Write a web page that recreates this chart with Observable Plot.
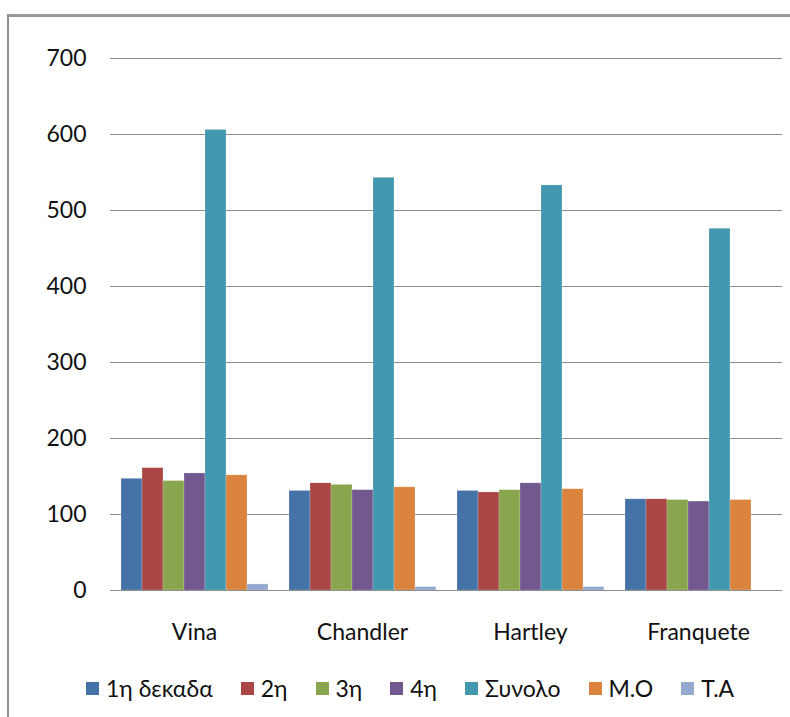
<!DOCTYPE html>
<html>
<head>
<meta charset="utf-8">
<script src="https://cdn.jsdelivr.net/npm/d3@7"></script>
<script src="https://cdn.jsdelivr.net/npm/@observablehq/plot@0.6"></script>
<style>
  html, body { margin: 0; padding: 0; background: #fff; overflow: hidden; width: 790px; height: 717px; }
  #page { position: relative; width: 790px; height: 717px; overflow: hidden; font-family: Lato, "Open Sans", sans-serif; }
  #frame { position: absolute; left: 7px; top: 14px; width: 900px; height: 900px; border-left: 2px solid #8f8f8f; border-top: 3px solid #999; box-sizing: border-box; }
  #chart { position: absolute; left: 0; top: 0; }
  #legend { position: absolute; left: 86px; top: 674px; display: flex; align-items: center; font-size: 23px; color: #111; white-space: nowrap; }
  .item { display: flex; align-items: center; margin-right: 28px; }
  .sw { width: 13px; height: 13px; margin-right: 7px; }
</style>
</head>
<body>
<div id="page">
  <div id="frame"></div>
  <div id="chart"></div>
  <div id="legend"></div>
</div>
<script>
const categories = ["Vina", "Chandler", "Hartley", "Franquete"];
const seriesNames = ["1η δεκαδα", "2η", "3η", "4η", "Συνολο", "M.O", "T.A"];
const colors = ["#4572A7", "#AA4643", "#89A54E", "#71588F", "#4198AF", "#DB843D", "#93A9CF"];
const dec1 = [147, 131, 131, 120];
const dec2 = [161, 141, 129, 120];
const dec3 = [144, 139, 132, 119];
const dec4 = [154, 132, 141, 117];
const total = [606, 543, 533, 476];
const mean = [151.5, 135.75, 133.25, 119];
const ta = [8, 4.5, 4.5, 0];
const yTicks = [0, 100, 200, 300, 400, 500, 600, 700];

const seriesValues = [dec1, dec2, dec3, dec4, total, mean, ta];
const data = [];
categories.forEach((c, i) => {
  seriesNames.forEach((s, j) => {
    data.push({category: c, series: s, value: seriesValues[j][i]});
  });
});

const chart = Plot.plot({
  width: 790,
  height: 660,
  marginTop: 58,
  marginBottom: 70,
  marginLeft: 110,
  marginRight: 8,
  style: {fontSize: "23px", fontFamily: "Lato, 'Open Sans', sans-serif", color: "#111", background: "transparent"},
  fx: {domain: categories, padding: 0, label: null},
  x: {domain: seriesNames, paddingInner: 0, paddingOuter: 0.39, axis: null},
  y: {domain: [0, 700], label: null},
  color: {domain: seriesNames, range: colors},
  marks: [
    Plot.gridY(yTicks, {stroke: "#8c8c8c", strokeOpacity: 1, strokeWidth: 1}),
    Plot.axisY(yTicks, {tickSize: 0, tickPadding: 24, label: null}),
    Plot.axisFx({anchor: "bottom", tickSize: 0, tickPadding: 33, label: null}),
    Plot.barY(data, {fx: "category", x: "series", y: "value", fill: "series", stroke: "#ffffff", strokeOpacity: 0.35, strokeWidth: 0.6}),
    Plot.ruleY([0], {stroke: "#8c8c8c", strokeWidth: 1.2})
  ]
});
document.getElementById("chart").appendChild(chart);

const legend = document.getElementById("legend");
seriesNames.forEach((s, i) => {
  const item = document.createElement("div");
  item.className = "item";
  const sw = document.createElement("span");
  sw.className = "sw";
  sw.style.background = colors[i];
  const t = document.createElement("span");
  t.textContent = s;
  item.appendChild(sw);
  item.appendChild(t);
  legend.appendChild(item);
});
</script>
</body>
</html>
